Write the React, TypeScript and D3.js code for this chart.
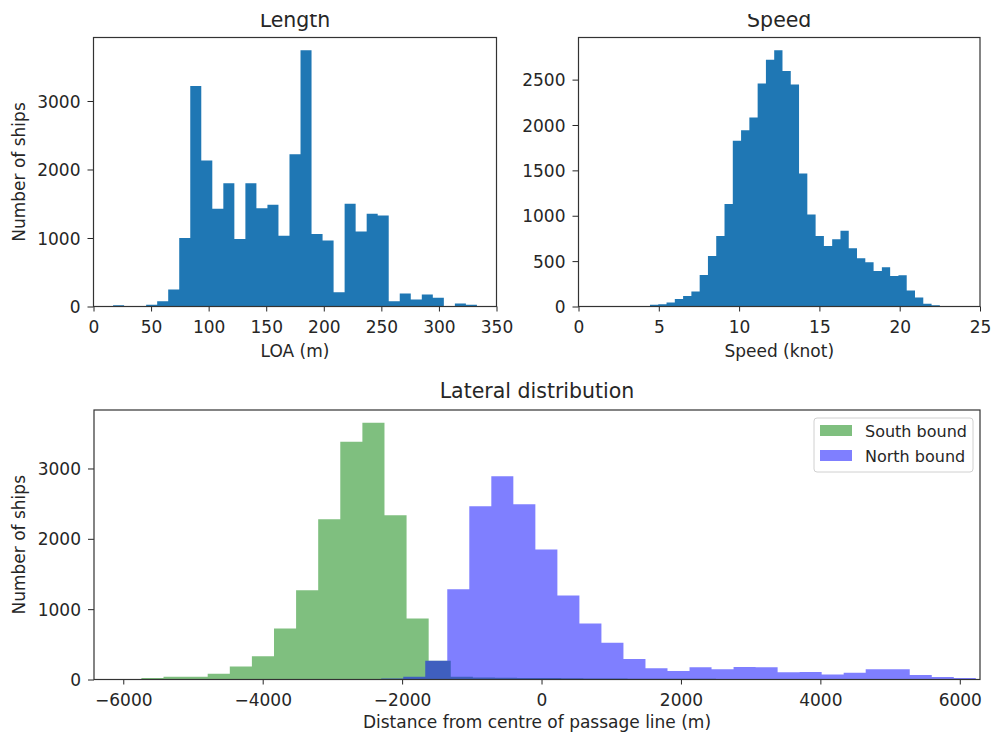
import React, { useRef, useEffect } from "react";
import * as d3 from "d3";

const W = 993;
const H = 734;
const FONT = "DejaVu Sans, sans-serif";
const INK = "#262626";

// Length histogram (LOA, m): 33 equal bins between the range ends
const lengthRange = [17, 333];
const lengthCounts = [
  20, 0, 0, 25, 77, 247, 1000, 3220, 2130, 1426, 1800, 985, 1800, 1436, 1485, 1033, 2222,
  3740, 1058, 965, 208, 1500, 1096, 1354, 1330, 77, 189, 102, 175, 126, 0, 44, 25,
];
const lengthXTicks = [0, 50, 100, 150, 200, 250, 300, 350];
const lengthYTicks = [0, 1000, 2000, 3000];

// Speed histogram (knot): 35 bins
const speedRange = [4.45, 22.5];
const speedCounts = [
  18, 25, 44, 84, 117, 165, 348, 557, 777, 1129, 1826, 1943, 2082, 2456, 2720, 2823, 2595,
  2445, 1466, 1015, 777, 667, 740, 836, 641, 532, 488, 392, 433, 337, 345, 176, 99, 29, 15,
];
const speedXTicks = [0, 5, 10, 15, 20, 25];
const speedYTicks = [0, 500, 1000, 1500, 2000, 2500];

// Lateral distribution (m)
const southRange = [-5740, 3136];
const southCounts = [
  20, 40, 40, 80, 185, 330, 725, 1270, 2280, 3379, 3649, 2336, 867, 265, 40, 30, 25, 20, 20,
  18, 15, 15, 12, 12, 10, 10, 8, 8,
];
const northRange = [-2300, 6230];
const northCounts = [
  15, 40, 265, 1284, 2464, 2891, 2493, 1848, 1194, 796, 521, 292, 160, 120, 175, 145, 178,
  175, 102, 106, 72, 95, 145, 145, 64, 35, 21,
];
const lateralXDomain = [-6420, 6290];
const lateralXTicks = [-6000, -4000, -2000, 0, 2000, 4000, 6000];
const lateralYTicks = [0, 1000, 2000, 3000];
const lateralSeries = ["South bound", "North bound"];
const lateralColors = ["#008000", "#0000ff"];

type Step = { x: number; count: number };
type Box = { left: number; right: number; top: number; bottom: number };

// histogram as step points: one per left bin edge, plus the closing right edge
const toSteps = (range: number[], counts: number[]): Step[] => {
  const step = (range[1] - range[0]) / counts.length;
  const pts = counts.map((c, i) => ({ x: range[0] + i * step, count: c }));
  pts.push({ x: range[1], count: 0 });
  return pts;
};

function drawPanel(
  svg: d3.Selection<SVGSVGElement, unknown, null, undefined>,
  o: {
    id: string;
    box: Box;
    xDomain: number[];
    yMax: number;
    xTicks: number[];
    yTicks: number[];
    title: string;
    titleY: number;
    xLabel: string;
    xLabelY: number;
    yLabel?: string;
    series: { steps: Step[]; fill: string; opacity: number }[];
  }
) {
  const { box } = o;
  const x = d3.scaleLinear().domain(o.xDomain).range([box.left, box.right]);
  const y = d3.scaleLinear().domain([0, o.yMax]).range([box.bottom, box.top]);

  svg.append("clipPath").attr("id", `clip-${o.id}`)
    .append("rect")
    .attr("x", box.left).attr("y", box.top)
    .attr("width", box.right - box.left).attr("height", box.bottom - box.top);

  const area = d3.area<Step>()
    .x((d) => x(d.x))
    .y0(y(0))
    .y1((d) => y(d.count))
    .curve(d3.curveStepAfter);

  const plot = svg.append("g").attr("clip-path", `url(#clip-${o.id})`);
  o.series.forEach((s) => {
    plot.append("path")
      .datum(s.steps)
      .attr("d", area)
      .attr("fill", s.fill)
      .attr("fill-opacity", s.opacity);
  });

  const fmt = d3.format("d");

  // Axes
  const xAxis = svg.append("g")
    .attr("transform", `translate(0,${box.bottom})`)
    .call(d3.axisBottom(x).tickValues(o.xTicks).tickFormat(fmt).tickSize(5).tickSizeOuter(0));
  xAxis.select(".domain").remove();
  xAxis.attr("font-family", FONT).attr("font-size", 17).attr("color", INK);
  xAxis.selectAll("text").attr("y", 26).attr("dy", null);

  const yAxis = svg.append("g")
    .attr("transform", `translate(${box.left},0)`)
    .call(d3.axisLeft(y).tickValues(o.yTicks).tickFormat(fmt).tickSize(6).tickPadding(7).tickSizeOuter(0));
  yAxis.select(".domain").remove();
  yAxis.attr("font-family", FONT).attr("font-size", 17).attr("color", INK);
  yAxis.selectAll("text").attr("dy", "0.36em");

  // Frame
  svg.append("rect")
    .attr("x", box.left).attr("y", box.top)
    .attr("width", box.right - box.left).attr("height", box.bottom - box.top)
    .attr("fill", "none").attr("stroke", "#333").attr("stroke-width", 1.2);

  const cx = (box.left + box.right) / 2;
  svg.append("text")
    .attr("x", cx).attr("y", o.titleY)
    .attr("text-anchor", "middle")
    .attr("font-family", FONT).attr("font-size", 20.5).attr("fill", INK)
    .attr("clip-path", "url(#clip-page)")
    .text(o.title);

  svg.append("text")
    .attr("x", cx).attr("y", o.xLabelY)
    .attr("text-anchor", "middle")
    .attr("font-family", FONT).attr("font-size", 17).attr("fill", INK)
    .text(o.xLabel);

  if (o.yLabel) {
    const cy = (box.top + box.bottom) / 2;
    svg.append("text")
      .attr("transform", `translate(25,${cy}) rotate(-90)`)
      .attr("text-anchor", "middle")
      .attr("font-family", FONT).attr("font-size", 17).attr("fill", INK)
      .text(o.yLabel);
  }
}

const App = () => {
  const svgRef = useRef<SVGSVGElement>(null);

  useEffect(() => {
    const svg = d3.select(svgRef.current as SVGSVGElement);
    svg.selectAll("*").remove();

    // the source picture is cropped at the top, cutting the upper titles
    svg.append("clipPath").attr("id", "clip-page")
      .append("rect").attr("x", 0).attr("y", 14).attr("width", W).attr("height", H);

    drawPanel(svg, {
      id: "length",
      box: { left: 93.5, right: 496.5, top: 37.5, bottom: 306.5 },
      xDomain: [0, 350],
      yMax: (d3.max(lengthCounts) as number) * 1.05,
      xTicks: lengthXTicks,
      yTicks: lengthYTicks,
      title: "Length",
      titleY: 27,
      xLabel: "LOA (m)",
      xLabelY: 357,
      yLabel: "Number of ships",
      series: [{ steps: toSteps(lengthRange, lengthCounts), fill: "#1f77b4", opacity: 1 }],
    });

    drawPanel(svg, {
      id: "speed",
      box: { left: 578.5, right: 980, top: 37.5, bottom: 306.5 },
      xDomain: [0, 25],
      yMax: (d3.max(speedCounts) as number) * 1.05,
      xTicks: speedXTicks,
      yTicks: speedYTicks,
      title: "Speed",
      titleY: 27,
      xLabel: "Speed (knot)",
      xLabelY: 357,
      series: [{ steps: toSteps(speedRange, speedCounts), fill: "#1f77b4", opacity: 1 }],
    });

    drawPanel(svg, {
      id: "lateral",
      box: { left: 94, right: 980, top: 410, bottom: 679.5 },
      xDomain: lateralXDomain,
      yMax: (d3.max([...southCounts, ...northCounts]) as number) * 1.05,
      xTicks: lateralXTicks,
      yTicks: lateralYTicks,
      title: "Lateral distribution",
      titleY: 398,
      xLabel: "Distance from centre of passage line (m)",
      xLabelY: 728,
      yLabel: "Number of ships",
      series: [
        { steps: toSteps(southRange, southCounts), fill: lateralColors[0], opacity: 0.5 },
        { steps: toSteps(northRange, northCounts), fill: lateralColors[1], opacity: 0.5 },
      ],
    });

    // Legend
    const lg = svg.append("g").attr("transform", "translate(814,418)");
    lg.append("rect")
      .attr("width", 159).attr("height", 54).attr("rx", 3)
      .attr("fill", "white").attr("fill-opacity", 0.8)
      .attr("stroke", "#d0d0d0").attr("stroke-width", 1);
    lateralSeries.forEach((name, i) => {
      lg.append("rect")
        .attr("x", 6).attr("y", 7 + i * 25)
        .attr("width", 32).attr("height", 11)
        .attr("fill", lateralColors[i]).attr("fill-opacity", 0.5);
      lg.append("text")
        .attr("x", 51).attr("y", 18.5 + i * 25)
        .attr("font-family", FONT).attr("font-size", 16).attr("fill", INK)
        .text(name);
    });
  }, []);

  return (
    <svg
      ref={svgRef}
      width={W}
      height={H}
      style={{ position: "absolute", left: 0, top: 0, background: "white" }}
    />
  );
};

export default App;
